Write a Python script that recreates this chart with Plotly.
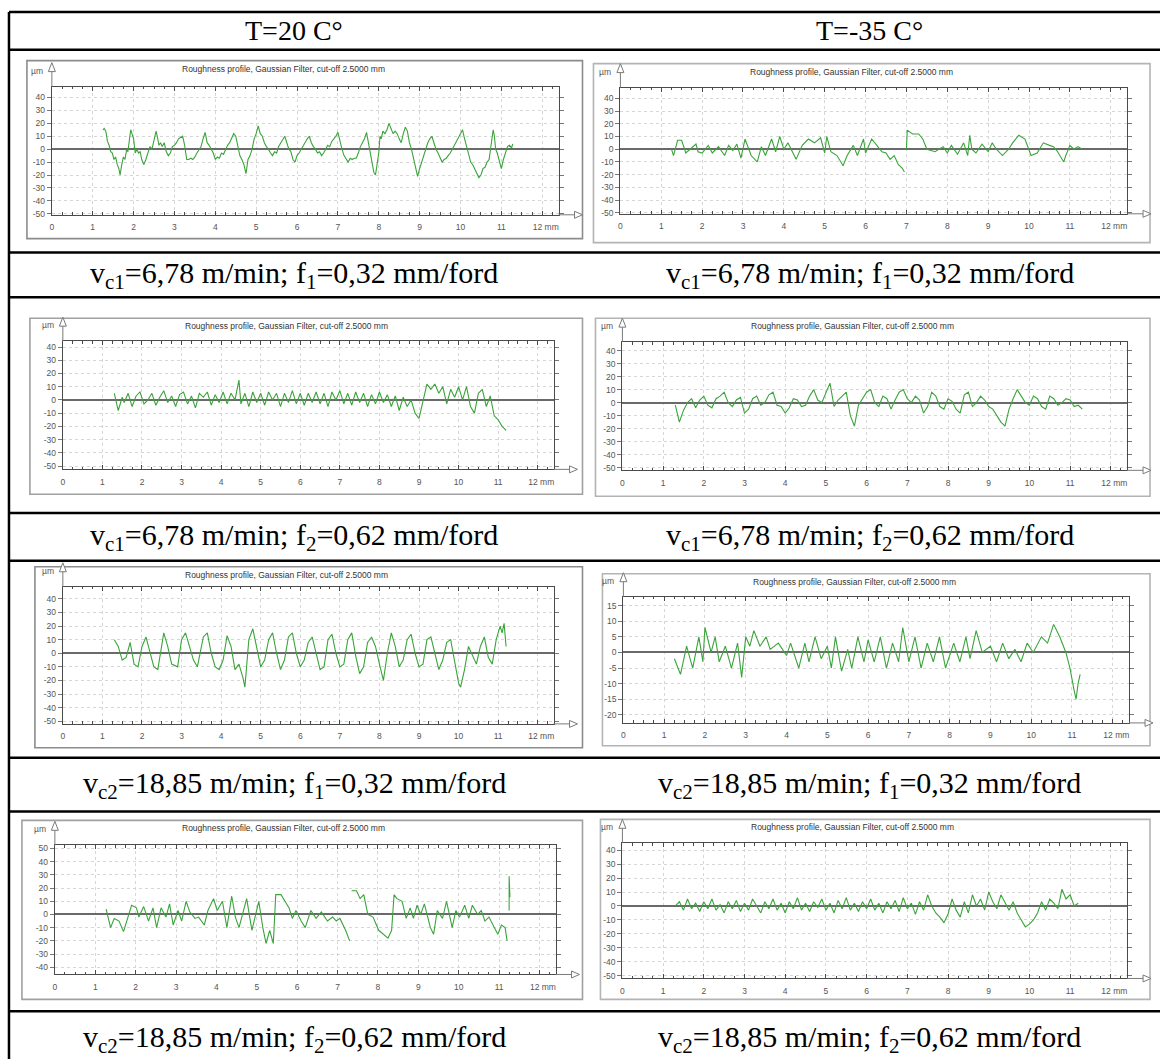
import plotly.graph_objects as go

W, H = 1161, 1063

# ---------------- text content ----------------
HEADERS = ["T=20 C°", "T=-35 C°"]
CAPTIONS = [
    "v<sub>c1</sub>=6,78 m/min; f<sub>1</sub>=0,32 mm/ford",
    "v<sub>c1</sub>=6,78 m/min; f<sub>1</sub>=0,32 mm/ford",
    "v<sub>c1</sub>=6,78 m/min; f<sub>2</sub>=0,62 mm/ford",
    "v<sub>c1</sub>=6,78 m/min; f<sub>2</sub>=0,62 mm/ford",
    "v<sub>c2</sub>=18,85 m/min; f<sub>1</sub>=0,32 mm/ford",
    "v<sub>c2</sub>=18,85 m/min; f<sub>1</sub>=0,32 mm/ford",
    "v<sub>c2</sub>=18,85 m/min; f<sub>2</sub>=0,62 mm/ford",
    "v<sub>c2</sub>=18,85 m/min; f<sub>2</sub>=0,62 mm/ford",
]
PANEL_TITLE = "Roughness profile, Gaussian Filter, cut-off 2.5000 mm"
Y_UNIT = "µm"
X_TICKS = [0, 1, 2, 3, 4, 5, 6, 7, 8, 9, 10, 11, 12]
X_TICK_LABELS = ["0", "1", "2", "3", "4", "5", "6", "7", "8", "9", "10", "11", "\u00a0\u00a0\u00a012 mm"]
Y_TICKS_A = [40, 30, 20, 10, 0, -10, -20, -30, -40, -50]
Y_TICKS_B = [15, 10, 5, 0, -5, -10, -15, -20]
Y_TICKS_C = [50, 40, 30, 20, 10, 0, -10, -20, -30, -40]

# ---------------- profile data (x in mm, y in µm) ----------------
# T=20, vc1, f1
p1_x = [1.25, 1.28, 1.32, 1.36, 1.40, 1.44, 1.48, 1.52, 1.56, 1.60,
        1.64, 1.67, 1.71, 1.75, 1.79, 1.83, 1.86, 1.90, 1.93, 1.96,
        2.00, 2.04, 2.08, 2.12, 2.16, 2.20, 2.25, 2.30, 2.35, 2.40,
        2.45, 2.50, 2.55, 2.58, 2.62, 2.66, 2.70, 2.75, 2.80, 2.85,
        2.90, 2.95, 3.00, 3.05, 3.10, 3.15, 3.20, 3.25, 3.30, 3.35,
        3.40, 3.45, 3.50, 3.55, 3.60, 3.65, 3.70, 3.75, 3.80, 3.85,
        3.90, 3.95, 4.00, 4.05, 4.10, 4.15, 4.20, 4.25, 4.30, 4.35,
        4.40, 4.45, 4.50, 4.55, 4.60, 4.65, 4.70, 4.75, 4.80, 4.85,
        4.90, 4.95, 5.00, 5.05, 5.10, 5.15, 5.20, 5.25, 5.30, 5.35,
        5.40, 5.45, 5.50, 5.55, 5.60, 5.65, 5.70, 5.75, 5.80, 5.85,
        5.90, 5.95, 6.00, 6.05, 6.10, 6.15, 6.20, 6.25, 6.30, 6.35,
        6.40, 6.45, 6.50, 6.55, 6.60, 6.65, 6.70, 6.75, 6.80, 6.85,
        6.90, 6.95, 7.00, 7.05, 7.10, 7.15, 7.20, 7.25, 7.30, 7.35,
        7.40, 7.45, 7.50, 7.55, 7.60, 7.65, 7.70, 7.75, 7.80, 7.85,
        7.88, 7.92, 7.96, 8.00, 8.03, 8.06, 8.10, 8.15, 8.20, 8.25,
        8.30, 8.35, 8.40, 8.45, 8.50, 8.55, 8.60, 8.65, 8.70, 8.75,
        8.80, 8.85, 8.90, 8.95, 9.00, 9.05, 9.10, 9.15, 9.20, 9.25,
        9.30, 9.35, 9.40, 9.45, 9.50, 9.55, 9.60, 9.65, 9.70, 9.75,
        9.80, 9.85, 9.90, 9.95, 10.00, 10.05, 10.10, 10.15, 10.20, 10.25,
        10.30, 10.35, 10.40, 10.45, 10.50, 10.55, 10.60, 10.65, 10.70, 10.75,
        10.80, 10.83, 10.86, 10.90, 10.95, 11.00, 11.05, 11.10, 11.15, 11.20,
        11.25, 11.28]
p1_y = [15, 16, 14, 6, 3, -2, -3, -8, -6, -12,
        -15, -20, -12, -6, -8, 0, -2, 10, 15, 12,
        8, -3, 0, -3, -2, -8, -12, -8, -3, 2,
        0, 8, 14, 10, 3, 5, 2, 5, -2, -5,
        -3, 2, 3, 5, 8, 9, 10, 3, -8, -8,
        -7, -8, -6, -3, 0, 2, 8, 13, 5, 3,
        0, -3, -8, -6, -7, -3, -4, 0, 3, 5,
        8, 12, 10, 2, -5, -8, -12, -19, -8, -5,
        0, 8, 12, 18, 12, 10, 5, 2, 0, -3,
        -5, -2, -3, 2, 5, 8, 10, 5, 0, -2,
        -8, -10, -5, -3, 0, 3, 5, 8, 10, 5,
        2, 0, -3, -2, -5, -3, 0, 3, 2, 6,
        8, 10, 13, 5, 0, -5, -8, -10, -7, -8,
        -7, -7, -3, 2, 5, 8, 13, 5, -5, -12,
        -18, -20, -12, -3, 10, 8, 14, 12, 15, 20,
        16, 12, 14, 12, 8, 5, 12, 17, 14, 5,
        0, -8, -15, -21, -15, -10, -5, 0, 5, 8,
        10, 5, 0, -3, -7, -10, -8, -7, -5, -3,
        0, 3, 5, 8, 12, 15, 8, 2, -5, -10,
        -12, -15, -18, -22, -20, -15, -14, -10, -8, 5,
        15, 10, 0, -3, -10, -15, -8, -2, 2, 3,
        1, 4]

# T=-35, vc1, f1
p2_x = [1.25, 1.30, 1.40, 1.50, 1.60, 1.70, 1.85, 1.90, 2.00, 2.15,
        2.25, 2.40, 2.55, 2.65, 2.75, 2.85, 2.95, 3.05, 3.20, 3.35,
        3.45, 3.55, 3.70, 3.80, 3.90, 4.00, 4.10, 4.30, 4.45, 4.60,
        4.75, 4.90, 5.00, 5.05, 5.15, 5.30, 5.45, 5.55, 5.70, 5.80,
        5.95, 6.00, 6.15, 6.30, 6.40, 6.50, 6.60, 6.70, 6.80, 6.90,
        6.95, 6.97, 7.00, 7.02, 7.15, 7.30, 7.40, 7.50, 7.70, 7.90,
        8.00, 8.10, 8.25, 8.40, 8.50, 8.55, 8.60, 8.70, 8.85, 9.00,
        9.10, 9.20, 9.35, 9.50, 9.60, 9.75, 9.90, 10.00, 10.05, 10.20,
        10.35, 10.50, 10.60, 10.70, 10.85, 10.90, 11.00, 11.10, 11.20, 11.30]
p2_y = [0, -5, 7, 7, -3, 0, 4, -2, -3, 3,
        -3, 2, -5, 3, -1, 4, -7, 8, -5, -10,
        2, -5, 8, -2, 10, 0, 5, -8, 3, 8,
        5, 9, -3, 10, -2, -5, -13, -5, 3, -5,
        8, -3, 8, 2, -2, -3, -8, -5, -12, -15,
        -18, None, 0, 15, 12, 12, 8, 0, -2, 2,
        -3, 3, -4, 5, -5, 11, 0, -3, 4, -2,
        5, 0, -5, 0, 5, 11, 8, 0, -5, -3,
        5, 3, 2, -2, -10, -5, 3, 0, 2, 0]

# T=20, vc1, f2
p3_x = [1.30, 1.35, 1.40, 1.50, 1.55, 1.65, 1.75, 1.85, 1.95, 2.05,
        2.15, 2.25, 2.35, 2.45, 2.55, 2.65, 2.75, 2.85, 2.95, 3.05,
        3.15, 3.25, 3.35, 3.45, 3.55, 3.65, 3.75, 3.85, 3.95, 4.05,
        4.15, 4.25, 4.35, 4.45, 4.50, 4.60, 4.70, 4.80, 4.90, 5.00,
        5.10, 5.20, 5.30, 5.40, 5.50, 5.60, 5.70, 5.80, 5.90, 6.00,
        6.10, 6.20, 6.30, 6.40, 6.50, 6.60, 6.70, 6.80, 6.90, 7.00,
        7.10, 7.20, 7.30, 7.40, 7.50, 7.60, 7.70, 7.80, 7.90, 8.00,
        8.10, 8.20, 8.30, 8.40, 8.50, 8.60, 8.70, 8.80, 8.90, 9.00,
        9.05, 9.15, 9.20, 9.30, 9.40, 9.50, 9.60, 9.70, 9.80, 9.90,
        10.00, 10.10, 10.20, 10.30, 10.40, 10.50, 10.60, 10.70, 10.80, 10.90,
        11.00, 11.10, 11.20, 11.25, 11.30]
p3_y = [5, -2, -8, 2, -2, 5, -5, 3, 6, -3,
        0, 5, -4, 2, 7, -2, 3, -5, 4, 6,
        -3, 3, -6, 5, 2, 6, -4, 4, -2, 6,
        -3, 5, 0, 15, -3, 5, -5, 6, -2, 5,
        -4, 6, 0, 5, -5, 5, -2, 7, -3, 5,
        -4, 5, -2, 6, -3, 5, -5, 6, 0, 7,
        -3, 5, -4, 6, -2, 5, -5, 4, -3, 6,
        -2, 4, -5, 3, -8, 2, -5, 0, -10, -14,
        -8, 5, 12, 8, 12, 5, 10, -3, 8, 2,
        10, 0, 10, -5, -10, 5, 8, -5, 3, -12,
        -15, -20, -23, None, -5]

# T=-35, vc1, f2
p4_x = [1.3, 1.4, 1.5, 1.6, 1.7, 1.8, 1.9, 2.0, 2.1, 2.2,
        2.3, 2.4, 2.5, 2.6, 2.7, 2.8, 2.9, 3.0, 3.1, 3.2,
        3.3, 3.4, 3.5, 3.6, 3.7, 3.8, 3.9, 4.0, 4.1, 4.2,
        4.3, 4.4, 4.5, 4.6, 4.7, 4.8, 4.9, 5.0, 5.1, 5.2,
        5.3, 5.4, 5.5, 5.6, 5.7, 5.8, 5.9, 6.0, 6.1, 6.2,
        6.3, 6.4, 6.5, 6.6, 6.7, 6.8, 6.9, 7.0, 7.1, 7.2,
        7.3, 7.4, 7.5, 7.6, 7.7, 7.8, 7.9, 8.0, 8.1, 8.2,
        8.3, 8.4, 8.5, 8.6, 8.7, 8.8, 8.9, 9.0, 9.1, 9.2,
        9.3, 9.4, 9.5, 9.6, 9.7, 9.8, 9.9, 10.0, 10.1, 10.2,
        10.3, 10.4, 10.5, 10.6, 10.7, 10.8, 10.9, 11.0, 11.1, 11.2,
        11.3]
p4_y = [-2, -15, -6, 0, 3, -4, 2, 5, -2, -4,
        3, 5, 8, 0, -3, 2, 4, -8, -5, 3,
        5, -2, 0, 6, 8, -2, -3, -8, -4, 3,
        2, -3, -2, 5, 10, 2, 0, 8, 15, -3,
        2, 5, 8, -10, -18, -2, 3, 8, 10, 0,
        -3, 5, 3, -5, 2, 8, 10, 3, 0, 5,
        2, -8, -3, 8, 5, -3, -5, 3, 1, -5,
        -8, 6, 8, -3, 0, 5, 2, -3, -5, -10,
        -15, -18, -5, 3, 10, 5, 0, -2, 5, 3,
        -3, -5, 5, 3, -2, 0, 3, 2, -3, -2,
        -5]

# T=20, vc2, f1
p5_x = [1.30, 1.40, 1.50, 1.60, 1.70, 1.80, 1.90, 2.00, 2.10, 2.20,
        2.30, 2.40, 2.55, 2.65, 2.75, 2.90, 3.00, 3.10, 3.20, 3.30,
        3.40, 3.55, 3.65, 3.75, 3.85, 3.95, 4.05, 4.15, 4.25, 4.35,
        4.45, 4.55, 4.60, 4.70, 4.80, 4.90, 5.00, 5.10, 5.20, 5.30,
        5.40, 5.50, 5.60, 5.70, 5.80, 5.90, 6.00, 6.10, 6.20, 6.30,
        6.40, 6.50, 6.60, 6.70, 6.80, 6.90, 7.00, 7.10, 7.20, 7.30,
        7.40, 7.50, 7.60, 7.70, 7.80, 7.90, 8.00, 8.10, 8.20, 8.30,
        8.40, 8.50, 8.60, 8.70, 8.80, 8.90, 9.00, 9.10, 9.20, 9.30,
        9.40, 9.50, 9.60, 9.70, 9.80, 9.90, 10.00, 10.05, 10.15, 10.25,
        10.35, 10.45, 10.55, 10.65, 10.75, 10.85, 10.95, 11.05, 11.10, 11.15,
        11.20]
p5_y = [10, 5, -5, -3, 8, -8, -10, 5, 12, 0,
        -10, -12, 15, 5, -8, -10, 10, 15, 5, -5,
        -10, 12, 15, 0, -10, -12, -5, 13, 5, -12,
        -8, -18, -25, 10, 18, 5, -10, -5, 10, 15,
        0, -12, -5, 12, 15, 0, -10, -5, 8, 12,
        0, -12, -10, 10, 14, 0, -10, -8, 10, 15,
        -2, -15, -10, 8, 12, 5, -8, -20, 0, 15,
        5, -10, -5, 10, 14, 0, -10, -8, 10, 12,
        0, -12, -5, 8, 10, -5, -22, -25, -12, 5,
        -2, -8, 5, 12, -3, -8, 10, 20, 15, 22,
        5]

# T=-35, vc2, f1
p6_x = [1.25, 1.40, 1.55, 1.70, 1.85, 1.95, 2.00, 2.15, 2.25, 2.35,
        2.50, 2.65, 2.80, 2.90, 3.00, 3.10, 3.20, 3.35, 3.50, 3.60,
        3.80, 4.00, 4.10, 4.30, 4.45, 4.55, 4.70, 4.85, 5.00, 5.10,
        5.20, 5.35, 5.50, 5.60, 5.75, 5.90, 6.00, 6.15, 6.30, 6.45,
        6.60, 6.75, 6.85, 7.00, 7.15, 7.30, 7.45, 7.60, 7.75, 7.90,
        8.10, 8.25, 8.40, 8.50, 8.65, 8.80, 9.00, 9.15, 9.30, 9.45,
        9.60, 9.75, 9.90, 10.05, 10.25, 10.40, 10.55, 10.70, 10.85, 10.95,
        11.05, 11.10, 11.15, 11.20]
p6_y = [-2, -7, 2, -5, 5, -3, 8, 0, 5, -3,
        2, -5, 3, -8, 5, 2, 7, 2, 5, 1,
        3, -1, 3, -5, 3, -3, 5, -2, 2, -5,
        5, -6, 1, -5, 5, -3, 4, -3, 5, -5,
        3, -3, 8, -3, 5, -5, 3, -3, 5, -5,
        3, -3, 5, -2, 7, 0, 2, -3, 3, -2,
        1, -3, 3, 0, 5, 3, 9, 5, 0, -5,
        -12, -15, -10, -7]

# T=20, vc2, f2
p7_x = [1.27, 1.38, 1.47, 1.59, 1.70, 1.84, 1.90, 2.02, 2.08, 2.20,
        2.32, 2.43, 2.52, 2.63, 2.75, 2.84, 2.93, 3.05, 3.14, 3.25,
        3.34, 3.47, 3.56, 3.70, 3.79, 3.93, 4.02, 4.15, 4.26, 4.38,
        4.47, 4.56, 4.75, 4.88, 5.05, 5.15, 5.23, 5.32, 5.41, 5.47,
        5.60, 5.70, 5.80, 5.88, 5.97, 6.10, 6.20, 6.34, 6.47, 6.60,
        6.75, 6.88, 6.97, 7.06, 7.20, 7.30, 7.33, 7.35, 7.47, 7.56,
        7.65, 7.75, 7.88, 8.02, 8.15, 8.25, 8.34, 8.40, 8.47, 8.60,
        8.70, 8.80, 8.88, 8.97, 9.06, 9.15, 9.30, 9.38, 9.47, 9.60,
        9.70, 9.84, 9.93, 10.02, 10.15, 10.25, 10.34, 10.47, 10.56, 10.65,
        10.75, 10.88, 10.97, 11.06, 11.15, 11.20, 11.22, 11.25, 11.25, 11.27]
p7_y = [4, -10, -3, -5, -13, 0, 7, 5, -2, 6,
        -5, 5, -10, 5, -2, 8, -8, 3, -5, 10,
        2, -3, -2, -8, 3, 12, 3, 10, -10, 14,
        -2, -10, 12, -12, 10, -10, -22, -12, -22, 15,
        15, 10, 5, -3, 3, -5, -10, 3, -3, 2,
        -5, -2, -5, -3, -12, -20, None, 18, 18, 12,
        15, 0, -2, -12, -15, -18, -12, 15, 12, 10,
        -3, 5, -3, 7, 0, 8, -10, -15, 3, -3,
        10, -10, 3, -2, 7, -3, 7, 0, 3, -5,
        -2, -10, -15, -8, -10, -20, None, 3, 29, 13]

# T=-35, vc2, f2
p8_x = [1.30, 1.40, 1.50, 1.60, 1.70, 1.80, 1.90, 2.00, 2.10, 2.20,
        2.30, 2.40, 2.50, 2.60, 2.70, 2.80, 2.90, 3.00, 3.10, 3.20,
        3.30, 3.40, 3.50, 3.60, 3.70, 3.80, 3.90, 4.00, 4.10, 4.20,
        4.30, 4.40, 4.50, 4.60, 4.70, 4.80, 4.90, 5.00, 5.10, 5.20,
        5.30, 5.40, 5.50, 5.60, 5.70, 5.80, 5.90, 6.00, 6.10, 6.20,
        6.30, 6.40, 6.50, 6.60, 6.70, 6.80, 6.90, 7.00, 7.10, 7.20,
        7.30, 7.40, 7.50, 7.60, 7.70, 7.80, 7.90, 8.00, 8.10, 8.20,
        8.30, 8.40, 8.50, 8.60, 8.70, 8.80, 8.90, 9.00, 9.10, 9.20,
        9.30, 9.40, 9.50, 9.60, 9.70, 9.80, 9.90, 10.00, 10.10, 10.20,
        10.30, 10.40, 10.50, 10.60, 10.70, 10.80, 10.90, 11.00, 11.10, 11.20]
p8_y = [0, 3, -3, 5, -2, 2, -4, 3, -2, 5,
        -3, 1, -5, 3, -2, 4, -4, 2, -3, 5,
        0, -5, 3, -2, 5, -3, 2, -5, 3, -2,
        6, -3, 2, -4, 3, -1, 5, -3, 2, -5,
        4, -2, 6, -3, 2, -4, 3, -2, 5, -3,
        2, -5, 3, -2, 4, -4, 6, -2, 2, -6,
        3, -3, 8, 0, -5, -8, -12, -6, 5, -3,
        -8, 3, -5, 8, 0, 5, -3, 10, 3, -2,
        8, 2, -3, 3, -5, -10, -15, -13, -10, -5,
        3, -3, 5, 2, -2, 12, 5, 8, 0, 2]

PROFILES = [(p1_x, p1_y), (p2_x, p2_y), (p3_x, p3_y), (p4_x, p4_y),
            (p5_x, p5_y), (p6_x, p6_y), (p7_x, p7_y), (p8_x, p8_y)]
for i, (pxs, pys) in enumerate(PROFILES):
    assert len(pxs) == len(pys), (i + 1, len(pxs), len(pys))

Y_TICK_SETS = [Y_TICKS_A, Y_TICKS_A, Y_TICKS_A, Y_TICKS_A,
               Y_TICKS_A, Y_TICKS_B, Y_TICKS_C, Y_TICKS_A]

# ---------------- layout geometry (pixels) ----------------
# frame: (left, top, right, bottom) ; plot: (x_of_0mm, x_of_right_frame, y_top, y_axis)
GEOM = [
    dict(frame=(25, 59, 582, 238), plot=(50, 558, 85, 214), yr=(-50.8, 48.5), fc="#8c8c8c"),
    dict(frame=(593, 62, 1151, 242), plot=(620, 1128, 86, 213), yr=(-50.8, 48.5), fc="#b4b4b4"),
    dict(frame=(28, 318, 582, 495), plot=(61, 553, 341, 470), yr=(-52.5, 44.5), fc="#a0a0a0"),
    dict(frame=(595, 318, 1151, 497), plot=(622, 1128, 342, 471), yr=(-52, 46.5), fc="#b4b4b4"),
    dict(frame=(33, 568, 582, 750), plot=(61, 553, 588, 726), yr=(-52, 49), fc="#8c8c8c"),
    dict(frame=(602, 575, 1151, 748), plot=(623, 1130, 598, 725), yr=(-22.6, 17.9), fc="#b4b4b4"),
    dict(frame=(20, 823, 582, 1003), plot=(53, 555, 848, 978), yr=(-45.5, 52.5), fc="#a0a0a0"),
    dict(frame=(600, 822, 1151, 1003), plot=(622, 1128, 846, 982), yr=(-52, 45), fc="#b4b4b4"),
]
X_END = 12.4
TABLE_HLINES = [10, 48, 252, 297, 514, 562, 760, 814, 1015]
TABLE_LEFT = 7
COL_CENTERS = [293, 870]
HEADER_Y = 29
CAPTION_Y = [275, 538, 787, 1043]

GREEN = "#3aa43a"
AXC = "#4a4a4a"
ARC = "#7a7a7a"
TICKFONT = dict(family="Liberation Sans, Arial, sans-serif", size=8.5, color="#555555")


def px(x):
    return x / W


def py(y):
    return 1 - y / H


fig = go.Figure()
shapes = []
annotations = []

for i, g in enumerate(GEOM):
    k = i + 1
    sfx = "" if k == 1 else str(k)
    xs, ys = PROFILES[i]
    fig.add_trace(go.Scatter(
        x=xs, y=ys, mode="lines", line=dict(color=GREEN, width=1.1),
        xaxis="x" + sfx, yaxis="y" + sfx, showlegend=False,
        connectgaps=False, hoverinfo="skip"))
    fl, ft, fr, fb = g["frame"]
    x0, x1, yt, yb = g["plot"]
    # screenshot frame
    shapes.append(dict(type="rect", xref="paper", yref="paper",
                       x0=px(fl), x1=px(fr), y0=py(fb), y1=py(ft),
                       line=dict(color=g["fc"], width=1.6),
                       fillcolor="white", layer="below"))
    yt_vals = Y_TICK_SETS[i]
    fig.layout["xaxis" + sfx] = dict(
        domain=[px(x0), px(x1)], range=[0, X_END], anchor="y" + sfx,
        tickvals=X_TICKS, ticktext=X_TICK_LABELS, tickfont=TICKFONT,
        showgrid=True, gridcolor="#d6d6d6", griddash="3px,3px", gridwidth=1,
        showline=True, linecolor=AXC, linewidth=1.3, mirror="ticks",
        ticks="inside", ticklen=4, tickcolor=AXC, tickwidth=1,
        minor=dict(dtick=0.25, ticklen=2.5, ticks="inside", tickcolor=AXC, showgrid=False),
        zeroline=False, fixedrange=True, ticklabelstandoff=4)
    fig.layout["yaxis" + sfx] = dict(
        domain=[py(yb), py(yt)], range=list(g["yr"]), anchor="x" + sfx,
        tickvals=yt_vals, ticktext=[str(v) for v in yt_vals], tickfont=TICKFONT,
        showgrid=True, gridcolor="#d6d6d6", griddash="3px,3px", gridwidth=1,
        showline=True, linecolor=AXC, linewidth=1.3, mirror="ticks",
        ticks="outside", ticklen=4, tickcolor="#777777", tickwidth=1,
        zeroline=True, zerolinecolor="#6a6a6a", zerolinewidth=1.5,
        fixedrange=True)
    # x-axis arrow
    shapes.append(dict(type="line", xref="paper", yref="paper",
                       x0=px(x1), x1=px(x1 + 20), y0=py(yb), y1=py(yb),
                       line=dict(color=ARC, width=1)))
    shapes.append(dict(type="path", xref="paper", yref="paper",
                       path=f"M {px(x1 + 24)} {py(yb)} L {px(x1 + 16)} {py(yb - 3.5)} "
                            f"L {px(x1 + 16)} {py(yb + 3.5)} Z",
                       line=dict(color=ARC, width=1), fillcolor="white"))
    # y-axis arrow
    shapes.append(dict(type="line", xref="paper", yref="paper",
                       x0=px(x0), x1=px(x0), y0=py(yt), y1=py(yt - 18),
                       line=dict(color=ARC, width=1)))
    shapes.append(dict(type="path", xref="paper", yref="paper",
                       path=f"M {px(x0)} {py(yt - 24)} L {px(x0 - 3.5)} {py(yt - 15)} "
                            f"L {px(x0 + 3.5)} {py(yt - 15)} Z",
                       line=dict(color=ARC, width=1), fillcolor="white"))
    annotations.append(dict(xref="paper", yref="paper", x=px(x0 - 7), y=py(yt - 16),
                            text=Y_UNIT, showarrow=False, xanchor="right", yanchor="middle",
                            font=dict(family="Liberation Sans, Arial", size=8.5, color="#555555")))
    annotations.append(dict(xref="paper", yref="paper", x=px((x0 + x1) / 2 - 22), y=py(ft + 8),
                            text=PANEL_TITLE, showarrow=False, xanchor="center", yanchor="middle",
                            font=dict(family="Liberation Sans, Arial", size=8.5, color="#333333")))

# table lines
for yl in TABLE_HLINES:
    shapes.append(dict(type="line", xref="paper", yref="paper",
                       x0=px(TABLE_LEFT), x1=1, y0=py(yl), y1=py(yl),
                       line=dict(color="black", width=2.5)))
shapes.append(dict(type="line", xref="paper", yref="paper",
                   x0=px(TABLE_LEFT), x1=px(TABLE_LEFT), y0=0, y1=py(TABLE_HLINES[0]),
                   line=dict(color="black", width=2.5)))

SERIF = "Liberation Serif, Times New Roman, serif"
for c, t in enumerate(HEADERS):
    annotations.append(dict(xref="paper", yref="paper", x=px(COL_CENTERS[c]), y=py(HEADER_Y),
                            text=t, showarrow=False, xanchor="center", yanchor="middle",
                            font=dict(family=SERIF, size=28, color="black")))
for r in range(4):
    for c in range(2):
        annotations.append(dict(xref="paper", yref="paper", x=px(COL_CENTERS[c]), y=py(CAPTION_Y[r]),
                                text=CAPTIONS[2 * r + c], showarrow=False, xanchor="center",
                                yanchor="middle",
                                font=dict(family=SERIF, size=30, color="black")))

fig.update_layout(width=W, height=H, autosize=False,
                  margin=dict(l=0, r=0, t=0, b=0, pad=0),
                  paper_bgcolor="white", plot_bgcolor="white",
                  shapes=shapes, annotations=annotations, showlegend=False)

fig.write_html("out.html", config={"displayModeBar": False},
               post_script="document.body.style.margin='0';document.body.style.overflow='hidden';")
